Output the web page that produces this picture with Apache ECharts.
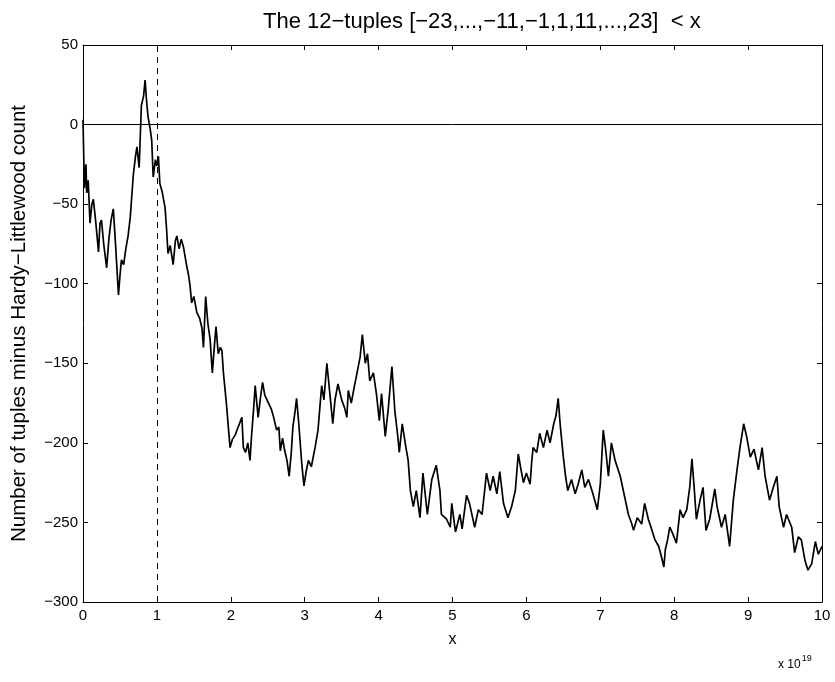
<!DOCTYPE html>
<html>
<head>
<meta charset="utf-8">
<script src="https://cdn.jsdelivr.net/npm/echarts@6/dist/echarts.min.js"></script>
<style>
  html, body { margin: 0; padding: 0; background: #fff; }
  #chart { width: 835px; height: 682px; }
</style>
</head>
<body>
<div id="chart"></div>
<script>
// x in units of 10^19
const xs = [
  0.00, 0.01, 0.02, 0.04, 0.05, 0.07, 0.095, 0.12, 0.14, 0.17, 0.21, 0.23, 0.25, 0.28, 0.32, 0.35, 0.38, 0.41, 0.44, 0.48,
  0.50, 0.52, 0.55, 0.58, 0.61, 0.64, 0.66, 0.68, 0.71, 0.73, 0.76, 0.79, 0.82, 0.84, 0.86, 0.88, 0.91, 0.93, 0.95, 0.98,
  1.00, 1.02, 1.04, 1.07, 1.11, 1.13, 1.15, 1.18, 1.22, 1.25, 1.27, 1.30, 1.33, 1.36, 1.40, 1.43, 1.45, 1.47, 1.50, 1.54,
  1.58, 1.61, 1.63, 1.66, 1.69, 1.72, 1.75, 1.78, 1.80, 1.83, 1.86, 1.88, 1.90, 1.94, 1.97, 1.99, 2.02, 2.06, 2.10, 2.15,
  2.17, 2.20, 2.23, 2.26, 2.28, 2.31, 2.33, 2.37, 2.40, 2.43, 2.46, 2.49, 2.52, 2.55, 2.58, 2.62, 2.65, 2.67, 2.70, 2.73,
  2.76, 2.79, 2.82, 2.84, 2.87, 2.89, 2.92, 2.96, 2.99, 3.02, 3.05, 3.09, 3.14, 3.18, 3.21, 3.23, 3.26, 3.30, 3.34, 3.38,
  3.41, 3.45, 3.50, 3.54, 3.57, 3.59, 3.63, 3.67, 3.70, 3.75, 3.78, 3.82, 3.85, 3.88, 3.93, 3.97, 4.01, 4.04, 4.09, 4.13,
  4.18, 4.22, 4.26, 4.28, 4.32, 4.37, 4.40, 4.43, 4.47, 4.51, 4.56, 4.60, 4.63, 4.66, 4.72, 4.78, 4.83, 4.85, 4.92, 4.97,
  4.99, 5.04, 5.10, 5.13, 5.19, 5.23, 5.30, 5.35, 5.40, 5.46, 5.51, 5.55, 5.60, 5.64, 5.69, 5.75, 5.80, 5.85, 5.89, 5.92,
  5.96, 6.00, 6.05, 6.07, 6.09, 6.14, 6.18, 6.23, 6.28, 6.32, 6.37, 6.40, 6.43, 6.46, 6.50, 6.53, 6.56, 6.61, 6.66, 6.70,
  6.75, 6.79, 6.84, 6.90, 6.96, 7.00, 7.04, 7.07, 7.11, 7.15, 7.20, 7.27, 7.33, 7.38, 7.42, 7.45, 7.50, 7.56, 7.60, 7.65,
  7.70, 7.74, 7.79, 7.83, 7.86, 7.88, 7.91, 7.94, 7.98, 8.03, 8.08, 8.12, 8.17, 8.21, 8.24, 8.27, 8.30, 8.35, 8.39, 8.43,
  8.48, 8.55, 8.58, 8.64, 8.69, 8.75, 8.80, 8.85, 8.89, 8.94, 8.98, 9.03, 9.08, 9.14, 9.19, 9.23, 9.29, 9.34, 9.39, 9.42,
  9.48, 9.52, 9.59, 9.63, 9.68, 9.72, 9.77, 9.81, 9.86, 9.91, 9.95, 10.00
];
const counts = [
  3, -20, -40, -25, -43, -35, -62, -50, -47, -60, -80, -62, -60, -75, -90, -72, -60, -53, -75, -107,
  -95, -85, -88, -78, -70, -58, -45, -32, -20, -14, -27, 12, 18, 28, 15, 5, -3, -10, -33, -22,
  -26, -20, -37, -42, -52, -65, -81, -76, -88, -73, -70, -78, -72, -77, -88, -95, -102, -112, -108, -118,
  -122, -128, -140, -108, -125, -135, -156, -138, -127, -144, -140, -142, -156, -175, -192, -203, -198, -195, -190, -184,
  -203, -206, -200, -211, -196, -178, -164, -184, -172, -162, -170, -173, -176, -179, -184, -192, -190, -205, -197, -205,
  -211, -221, -205, -190, -180, -172, -188, -213, -227, -218, -211, -215, -203, -192, -175, -164, -173, -150, -169, -188,
  -173, -163, -173, -178, -184, -167, -175, -165, -158, -146, -132, -150, -144, -161, -156, -169, -186, -169, -196, -179,
  -152, -180, -196, -206, -188, -203, -211, -230, -240, -230, -247, -219, -232, -245, -223, -214, -230, -245, -248, -253,
  -238, -256, -245, -254, -233, -238, -253, -242, -245, -219, -230, -221, -232, -218, -238, -247, -240, -230, -207, -215,
  -225, -219, -226, -213, -203, -206, -194, -203, -192, -200, -188, -183, -172, -190, -209, -221, -230, -223, -232, -226,
  -217, -228, -223, -232, -242, -226, -192, -203, -221, -200, -211, -221, -234, -245, -250, -255, -247, -251, -238, -248,
  -255, -261, -265, -272, -278, -267, -261, -253, -257, -263, -242, -247, -242, -228, -210, -228, -248, -236, -228, -255,
  -248, -229, -240, -253, -245, -265, -236, -217, -203, -188, -196, -209, -204, -217, -203, -221, -236, -228, -221, -240,
  -253, -245, -253, -269, -259, -261, -274, -280, -276, -262, -270, -265
];
const xTicks = [0, 1, 2, 3, 4, 5, 6, 7, 8, 9, 10];
const yTicks = [-300, -250, -200, -150, -100, -50, 0, 50];
const dashedAt = 1;

const points = xs.map((x, i) => [x, counts[i]]);
const minus = v => String(v).replace('-', '\u2212');
const font = 'Liberation Sans, Arial, Helvetica, sans-serif';

const chart = echarts.init(document.getElementById('chart'));

const baseX = {
  type: 'value', min: 0, max: 10, interval: 1,
  axisLine: { show: true, onZero: false, lineStyle: { color: '#000', width: 1 } },
  axisTick: { show: true, inside: true, length: 5, lineStyle: { color: '#000' } },
  splitLine: { show: false }
};
const baseY = {
  type: 'value', min: -300, max: 50, interval: 50,
  axisLine: { show: true, onZero: false, lineStyle: { color: '#000', width: 1 } },
  axisTick: { show: true, inside: true, length: 5, lineStyle: { color: '#000' } },
  splitLine: { show: false }
};

chart.setOption({
  animation: false,
  backgroundColor: '#fff',
  title: {
    text: 'The 12\u2212tuples [\u221223,...,\u221211,\u22121,1,11,...,23]  < x',
    left: 258, top: 6,
    textStyle: { fontFamily: font, fontSize: 22, fontWeight: 'normal', color: '#000' }
  },
  grid: { left: 83, right: 13, top: 45, bottom: 80 },
  xAxis: [
    Object.assign({}, baseX, {
      position: 'bottom',
      name: 'x', nameLocation: 'middle', nameGap: 30,
      nameTextStyle: { fontFamily: font, fontSize: 16, color: '#000' },
      axisLabel: { color: '#000', fontFamily: font, fontSize: 15, margin: 6, formatter: v => xTicks.includes(v) ? minus(v) : '' }
    }),
    Object.assign({}, baseX, { position: 'top', axisLabel: { show: false } })
  ],
  yAxis: [
    Object.assign({}, baseY, {
      position: 'left',
      name: 'Number of tuples minus Hardy\u2212Littlewood count', nameLocation: 'middle', nameGap: 53,
      nameTextStyle: { fontFamily: font, fontSize: 20.5, color: '#000' },
      axisLabel: { color: '#000', fontFamily: font, fontSize: 15, margin: 5, formatter: v => yTicks.includes(v) ? minus(v) : '' }
    }),
    Object.assign({}, baseY, { position: 'right', axisLabel: { show: false } })
  ],
  graphic: [{
    type: 'text', left: 778, top: 654,
    style: {
      text: '{b|x 10}{s|19}',
      rich: {
        b: { fontFamily: font, fontSize: 12, fill: '#000', verticalAlign: 'bottom' },
        s: { fontFamily: font, fontSize: 9, fill: '#000', verticalAlign: 'top', padding: [0, 0, 8, 1] }
      }
    }
  }],
  series: [{
    type: 'line',
    data: points,
    symbol: 'none',
    lineStyle: { color: '#000', width: 1.7 },
    markLine: {
      silent: true, symbol: 'none', label: { show: false },
      data: [
        { yAxis: 0, lineStyle: { type: 'solid', color: '#000', width: 1 } },
        { xAxis: dashedAt, lineStyle: { type: [6, 5], color: '#000', width: 1 } }
      ]
    }
  }]
});
</script>
</body>
</html>
